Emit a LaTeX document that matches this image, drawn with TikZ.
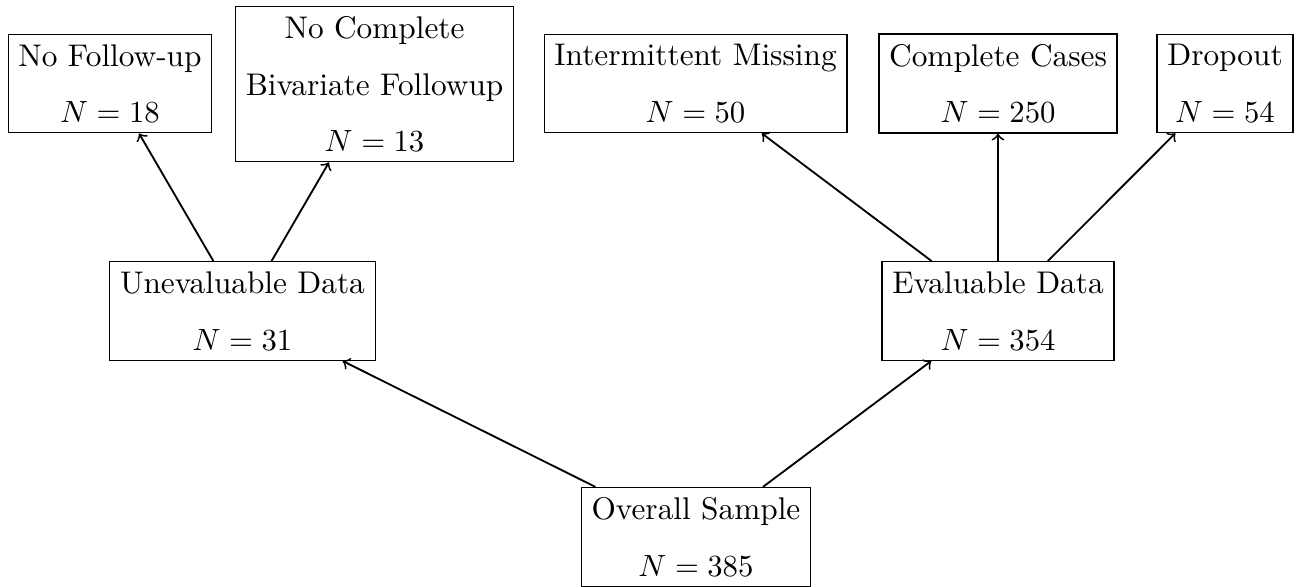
\documentclass[tikz,border=0pt]{standalone}
\usepackage{amsmath}
\usepackage{tikz}

\tikzset{
  stage/.style={draw, align=center, anchor=center, font=\fontsize{10.2pt}{12pt}\selectfont},
  flow/.style={->, semithick}
}

\begin{document}
\begin{tikzpicture}
\useasboundingbox (0,0) rectangle (14.849,-6.720);
% bottom level
\node[stage] (overall) at (7.968,-6.148) {Overall Sample\\[6.4pt] $N=385$};
% middle level
\node[stage] (uneval) at (2.776,-3.561) {Unevaluable Data\\[6.4pt] $N=31$};
\node[stage] (eval) at (11.426,-3.561) {Evaluable Data\\[6.4pt] $N=354$};
% top level
\node[stage] (nofollow) at (1.259,-0.956) {No Follow-up\\[6.4pt] $N=18$};
\node[stage] (nobivar) at (4.288,-0.962) {No Complete\\[6.4pt] Bivariate Followup\\[6.4pt] $N=13$};
\node[stage] (intermit) at (7.963,-0.956) {Intermittent Missing\\[6.4pt] $N=50$};
\node[stage] (complete) at (11.426,-0.956) {Complete Cases\\[6.4pt] $N=250$};
\node[stage] (dropout) at (14.025,-0.956) {Dropout\\[6.4pt] $N=54$};
\draw[flow] (overall) -- (uneval);
\draw[flow] (overall) -- (eval);
\draw[flow] (uneval) -- (nofollow);
\draw[flow] (uneval) -- (nobivar);
\draw[flow] (eval) -- (intermit);
\draw[flow] (eval) -- (complete);
\draw[flow] (eval) -- (dropout);
\end{tikzpicture}
\end{document}
